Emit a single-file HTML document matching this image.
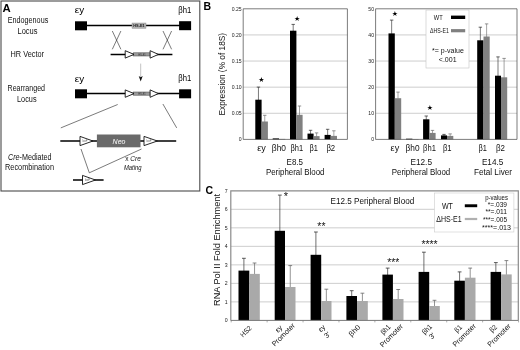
<!DOCTYPE html>
<html><head><meta charset="utf-8"><title>Figure</title>
<style>
html,body{margin:0;padding:0;background:#fff;}
svg{display:block;font-family:"Liberation Sans", sans-serif;}
</style></head>
<body>
<svg width="520" height="350" viewBox="0 0 520 350">
<defs><filter id="soft" x="0" y="0" width="520" height="350" filterUnits="userSpaceOnUse"><feGaussianBlur stdDeviation="0.38"/></filter></defs>
<rect width="520" height="350" fill="#fff"/>
<g filter="url(#soft)">
<rect width="520" height="350" fill="#fff"/>
<g id="panelA">
<rect x="1.00" y="1.00" width="198.80" height="190.00" fill="#fff" stroke="#4a4a4a" stroke-width="1.1" />
<text x="2.4" y="11.6" font-size="10.6" text-anchor="start" font-weight="bold" textLength="8.2" lengthAdjust="spacingAndGlyphs" fill="#000" >A</text>
<text x="28" y="23.1" font-size="8.3" text-anchor="middle" textLength="40.5" lengthAdjust="spacingAndGlyphs" fill="#111" >Endogenous</text>
<text x="27.5" y="33.9" font-size="8.3" text-anchor="middle" textLength="20" lengthAdjust="spacingAndGlyphs" fill="#111" >Locus</text>
<text x="27.3" y="56.6" font-size="8.3" text-anchor="middle" textLength="33.5" lengthAdjust="spacingAndGlyphs" fill="#111" >HR Vector</text>
<text x="26.3" y="90.7" font-size="8.3" text-anchor="middle" textLength="37.5" lengthAdjust="spacingAndGlyphs" fill="#111" >Rearranged</text>
<text x="26.8" y="101.5" font-size="8.3" text-anchor="middle" textLength="19.5" lengthAdjust="spacingAndGlyphs" fill="#111" >Locus</text>
<text x="29.8" y="159.6" font-size="8.3" text-anchor="middle" fill="#111" textLength="43.5" lengthAdjust="spacingAndGlyphs"><tspan font-style="italic">Cre</tspan>-Mediated</text>
<text x="29.5" y="170.3" font-size="8.3" text-anchor="middle" textLength="49" lengthAdjust="spacingAndGlyphs" fill="#111" >Recombination</text>
<text x="74.8" y="13.3" font-size="9.8" text-anchor="start" textLength="9.4" lengthAdjust="spacingAndGlyphs" fill="#000" >εy</text>
<text x="178.3" y="13.1" font-size="9.5" text-anchor="start" textLength="13" lengthAdjust="spacingAndGlyphs" fill="#000" >βh1</text>
<text x="74.8" y="81.5" font-size="9.8" text-anchor="start" textLength="9.4" lengthAdjust="spacingAndGlyphs" fill="#000" >εy</text>
<text x="178.3" y="81.4" font-size="9.5" text-anchor="start" textLength="13" lengthAdjust="spacingAndGlyphs" fill="#000" >βh1</text>
<line x1="86" y1="25.4" x2="180" y2="25.4" stroke="#000" stroke-width="1.5" />
<rect x="75.00" y="21.30" width="12.00" height="9.00" fill="#000" />
<rect x="179.10" y="21.20" width="12.00" height="9.00" fill="#000" />
<rect x="132.00" y="23.00" width="14.00" height="5.40" fill="#b0b0b0" stroke="#8a8a8a" stroke-width="0.4" />
<text x="139" y="27.1" font-size="3.9" text-anchor="middle" font-weight="bold" fill="#1a1a1a" >HS-E1</text>
<line x1="112.3" y1="31" x2="120.89999999999999" y2="49.3" stroke="#222" stroke-width="0.6" />
<line x1="120.89999999999999" y1="31" x2="112.3" y2="49.3" stroke="#222" stroke-width="0.6" />
<line x1="163" y1="31" x2="171.6" y2="49.3" stroke="#222" stroke-width="0.6" />
<line x1="171.6" y1="31" x2="163" y2="49.3" stroke="#222" stroke-width="0.6" />
<line x1="110.6" y1="54.4" x2="172.4" y2="54.4" stroke="#000" stroke-width="1.5" />
<rect x="133.40" y="52.80" width="17.00" height="3.20" fill="#9a9a9a" stroke="#444" stroke-width="0.5" />
<text x="142" y="55.5" font-size="2.6" text-anchor="middle" fill="#333" >HS-E1</text>
<polygon points="125.2,50.699999999999996 134,54.4 125.2,58.1" fill="#fff" stroke="#111" stroke-width="0.9" stroke-linejoin="miter"/>
<polygon points="150.1,50.699999999999996 158.4,54.4 150.1,58.1" fill="#fff" stroke="#111" stroke-width="0.9" stroke-linejoin="miter"/>
<line x1="140.7" y1="63.6" x2="140.7" y2="78" stroke="#777" stroke-width="0.45" />
<polygon points="138.7,76 140.7,77.2 142.7,76 140.7,81.6" fill="#111"/>
<line x1="86" y1="93.6" x2="180" y2="93.6" stroke="#000" stroke-width="1.5" />
<rect x="75.00" y="89.30" width="12.00" height="9.00" fill="#000" />
<rect x="179.10" y="89.30" width="12.00" height="9.00" fill="#000" />
<rect x="133.40" y="92.00" width="17.00" height="3.20" fill="#9a9a9a" stroke="#444" stroke-width="0.5" />
<text x="142" y="94.7" font-size="2.6" text-anchor="middle" fill="#333" >HS-E1</text>
<polygon points="125.2,89.89999999999999 134,93.6 125.2,97.3" fill="#fff" stroke="#111" stroke-width="0.9" stroke-linejoin="miter"/>
<polygon points="150.1,89.89999999999999 158.4,93.6 150.1,97.3" fill="#fff" stroke="#111" stroke-width="0.9" stroke-linejoin="miter"/>
<line x1="60.8" y1="127.9" x2="117.7" y2="104.5" stroke="#222" stroke-width="0.6" />
<line x1="162.9" y1="104" x2="176.7" y2="127.9" stroke="#222" stroke-width="0.6" />
<line x1="60.3" y1="141" x2="176.2" y2="141" stroke="#000" stroke-width="1.5" />
<polygon points="80,136.4 93,141 80,145.6" fill="#fff" stroke="#111" stroke-width="0.9" stroke-linejoin="miter"/>
<polygon points="144,136.4 157.4,141 144,145.6" fill="#fff" stroke="#111" stroke-width="0.9" stroke-linejoin="miter"/>
<text x="85" y="142.4" font-size="2.6" text-anchor="middle" fill="#555" >loxP</text>
<text x="149" y="142.4" font-size="2.6" text-anchor="middle" fill="#555" >loxP</text>
<rect x="96.90" y="134.50" width="43.60" height="12.80" fill="#6a6a6a" />
<text x="119" y="143.8" font-size="7" text-anchor="middle" font-style="italic" fill="#fff" >Neo</text>
<polyline points="81,149 89.3,172.8 141.5,149" fill="none" stroke="#222" stroke-width="0.6"/>
<text x="133" y="160.7" font-size="6.5" text-anchor="middle" fill="#111">x <tspan font-style="italic">Cre</tspan></text>
<text x="132.7" y="170.2" font-size="6.6" text-anchor="middle" font-style="italic" textLength="17.6" lengthAdjust="spacingAndGlyphs" fill="#111" >Mating</text>
<line x1="73" y1="180" x2="103.6" y2="180" stroke="#000" stroke-width="1.5" />
<polygon points="82.5,175.4 95.5,180 82.5,184.6" fill="#fff" stroke="#111" stroke-width="0.9" stroke-linejoin="miter"/>
<text x="87.5" y="181.4" font-size="2.6" text-anchor="middle" fill="#555" >loxP</text>
</g>
<g id="panelB">
<text x="203.4" y="10.4" font-size="10.5" text-anchor="start" font-weight="bold" fill="#000" >B</text>
<text x="241.6" y="141.20" font-size="5.1" text-anchor="end" fill="#222" >0</text>
<line x1="243.2" y1="113.28" x2="347.4" y2="113.28" stroke="#b8b8b8" stroke-width="0.7" />
<text x="241.6" y="115.08" font-size="5.1" text-anchor="end" fill="#222" >0.05</text>
<line x1="243.2" y1="87.16" x2="347.4" y2="87.16" stroke="#b8b8b8" stroke-width="0.7" />
<text x="241.6" y="88.96" font-size="5.1" text-anchor="end" fill="#222" >0.10</text>
<line x1="243.2" y1="61.04" x2="347.4" y2="61.04" stroke="#b8b8b8" stroke-width="0.7" />
<text x="241.6" y="62.84" font-size="5.1" text-anchor="end" fill="#222" >0.15</text>
<line x1="243.2" y1="34.92" x2="347.4" y2="34.92" stroke="#b8b8b8" stroke-width="0.7" />
<text x="241.6" y="36.72" font-size="5.1" text-anchor="end" fill="#222" >0.20</text>
<text x="241.6" y="10.60" font-size="5.1" text-anchor="end" fill="#222" >0.25</text>
<line x1="258.45" y1="87.10" x2="258.45" y2="100.20" stroke="#222" stroke-width="0.6" />
<line x1="256.75" y1="87.10" x2="260.15" y2="87.10" stroke="#222" stroke-width="0.7" />
<rect x="255.30" y="99.70" width="6.30" height="39.70" fill="#000" />
<line x1="264.75" y1="115.30" x2="264.75" y2="122.00" stroke="#666" stroke-width="0.6" />
<line x1="263.05" y1="115.30" x2="266.45" y2="115.30" stroke="#666" stroke-width="0.7" />
<rect x="261.60" y="121.50" width="6.30" height="17.90" fill="#808080" />
<rect x="272.70" y="138.40" width="6.30" height="1.00" fill="#000" />
<rect x="279.00" y="138.90" width="6.30" height="0.50" fill="#808080" />
<line x1="293.20" y1="24.40" x2="293.20" y2="31.20" stroke="#222" stroke-width="0.6" />
<line x1="291.50" y1="24.40" x2="294.90" y2="24.40" stroke="#222" stroke-width="0.7" />
<rect x="290.00" y="30.70" width="6.40" height="108.70" fill="#000" />
<line x1="299.50" y1="106.00" x2="299.50" y2="115.30" stroke="#666" stroke-width="0.6" />
<line x1="297.80" y1="106.00" x2="301.20" y2="106.00" stroke="#666" stroke-width="0.7" />
<rect x="296.40" y="114.80" width="6.20" height="24.60" fill="#808080" />
<line x1="310.55" y1="130.30" x2="310.55" y2="134.10" stroke="#222" stroke-width="0.6" />
<line x1="308.85" y1="130.30" x2="312.25" y2="130.30" stroke="#222" stroke-width="0.7" />
<rect x="307.50" y="133.60" width="6.10" height="5.80" fill="#000" />
<line x1="316.60" y1="132.90" x2="316.60" y2="136.60" stroke="#666" stroke-width="0.6" />
<line x1="314.90" y1="132.90" x2="318.30" y2="132.90" stroke="#666" stroke-width="0.7" />
<rect x="313.60" y="136.10" width="6.00" height="3.30" fill="#808080" />
<line x1="327.65" y1="129.30" x2="327.65" y2="135.40" stroke="#222" stroke-width="0.6" />
<line x1="325.95" y1="129.30" x2="329.35" y2="129.30" stroke="#222" stroke-width="0.7" />
<rect x="324.60" y="134.90" width="6.10" height="4.50" fill="#000" />
<line x1="333.85" y1="130.80" x2="333.85" y2="136.40" stroke="#666" stroke-width="0.6" />
<line x1="332.15" y1="130.80" x2="335.55" y2="130.80" stroke="#666" stroke-width="0.7" />
<rect x="330.70" y="135.90" width="6.30" height="3.50" fill="#808080" />
<path d="M243.2,139.4 V8.8 H347.4 V139.4" fill="none" stroke="#444" stroke-width="0.7"/>
<line x1="243.2" y1="139.4" x2="347.4" y2="139.4" stroke="#444" stroke-width="0.7" />
<text x="261.6" y="150.5" font-size="8.6" text-anchor="middle" textLength="8.6" lengthAdjust="spacingAndGlyphs" fill="#111" >εy</text>
<text x="278.9" y="150.5" font-size="8.6" text-anchor="middle" textLength="14.2" lengthAdjust="spacingAndGlyphs" fill="#111" >βh0</text>
<text x="296.8" y="150.5" font-size="8.6" text-anchor="middle" textLength="12.6" lengthAdjust="spacingAndGlyphs" fill="#111" >βh1</text>
<text x="313.6" y="150.5" font-size="8.6" text-anchor="middle" textLength="8.4" lengthAdjust="spacingAndGlyphs" fill="#111" >β1</text>
<text x="330.8" y="150.5" font-size="8.6" text-anchor="middle" textLength="8.8" lengthAdjust="spacingAndGlyphs" fill="#111" >β2</text>
<text x="374.0" y="141.20" font-size="5.1" text-anchor="end" fill="#222" >0</text>
<line x1="375.6" y1="113.28" x2="517" y2="113.28" stroke="#b8b8b8" stroke-width="0.7" />
<text x="374.0" y="115.08" font-size="5.1" text-anchor="end" fill="#222" >10</text>
<line x1="375.6" y1="87.16" x2="517" y2="87.16" stroke="#b8b8b8" stroke-width="0.7" />
<text x="374.0" y="88.96" font-size="5.1" text-anchor="end" fill="#222" >20</text>
<line x1="375.6" y1="61.04" x2="517" y2="61.04" stroke="#b8b8b8" stroke-width="0.7" />
<text x="374.0" y="62.84" font-size="5.1" text-anchor="end" fill="#222" >30</text>
<line x1="375.6" y1="34.92" x2="517" y2="34.92" stroke="#b8b8b8" stroke-width="0.7" />
<text x="374.0" y="36.72" font-size="5.1" text-anchor="end" fill="#222" >40</text>
<text x="374.0" y="10.60" font-size="5.1" text-anchor="end" fill="#222" >50</text>
<line x1="391.65" y1="20.10" x2="391.65" y2="33.90" stroke="#222" stroke-width="0.6" />
<line x1="389.95" y1="20.10" x2="393.35" y2="20.10" stroke="#222" stroke-width="0.7" />
<rect x="388.50" y="33.40" width="6.30" height="106.00" fill="#000" />
<line x1="398.00" y1="92.10" x2="398.00" y2="98.70" stroke="#666" stroke-width="0.6" />
<line x1="396.30" y1="92.10" x2="399.70" y2="92.10" stroke="#666" stroke-width="0.7" />
<rect x="394.80" y="98.20" width="6.40" height="41.20" fill="#808080" />
<rect x="406.00" y="138.70" width="6.40" height="0.70" fill="#000" />
<rect x="412.40" y="139.00" width="6.20" height="0.40" fill="#808080" />
<line x1="426.25" y1="116.00" x2="426.25" y2="119.80" stroke="#222" stroke-width="0.6" />
<line x1="424.55" y1="116.00" x2="427.95" y2="116.00" stroke="#222" stroke-width="0.7" />
<rect x="423.10" y="119.30" width="6.30" height="20.10" fill="#000" />
<line x1="432.50" y1="130.40" x2="432.50" y2="133.40" stroke="#666" stroke-width="0.6" />
<line x1="430.80" y1="130.40" x2="434.20" y2="130.40" stroke="#666" stroke-width="0.7" />
<rect x="429.40" y="132.90" width="6.20" height="6.50" fill="#808080" />
<line x1="444.00" y1="134.40" x2="444.00" y2="135.90" stroke="#222" stroke-width="0.6" />
<line x1="442.30" y1="134.40" x2="445.70" y2="134.40" stroke="#222" stroke-width="0.7" />
<rect x="441.00" y="135.40" width="6.00" height="4.00" fill="#000" />
<line x1="450.15" y1="133.90" x2="450.15" y2="136.40" stroke="#666" stroke-width="0.6" />
<line x1="448.45" y1="133.90" x2="451.85" y2="133.90" stroke="#666" stroke-width="0.7" />
<rect x="447.00" y="135.90" width="6.30" height="3.50" fill="#808080" />
<line x1="480.35" y1="27.20" x2="480.35" y2="40.80" stroke="#222" stroke-width="0.6" />
<line x1="478.65" y1="27.20" x2="482.05" y2="27.20" stroke="#222" stroke-width="0.7" />
<rect x="477.20" y="40.30" width="6.30" height="99.10" fill="#000" />
<line x1="486.60" y1="23.90" x2="486.60" y2="37.00" stroke="#666" stroke-width="0.6" />
<line x1="484.90" y1="23.90" x2="488.30" y2="23.90" stroke="#666" stroke-width="0.7" />
<rect x="483.50" y="36.50" width="6.20" height="102.90" fill="#808080" />
<line x1="498.00" y1="56.90" x2="498.00" y2="76.20" stroke="#222" stroke-width="0.6" />
<line x1="496.30" y1="56.90" x2="499.70" y2="56.90" stroke="#222" stroke-width="0.7" />
<rect x="495.00" y="75.70" width="6.00" height="63.70" fill="#000" />
<line x1="504.10" y1="58.40" x2="504.10" y2="77.80" stroke="#666" stroke-width="0.6" />
<line x1="502.40" y1="58.40" x2="505.80" y2="58.40" stroke="#666" stroke-width="0.7" />
<rect x="501.00" y="77.30" width="6.20" height="62.10" fill="#808080" />
<path d="M375.6,139.4 V8.8 H517 V139.4" fill="none" stroke="#444" stroke-width="0.7"/>
<line x1="375.6" y1="139.4" x2="517" y2="139.4" stroke="#444" stroke-width="0.7" />
<text x="394.9" y="150.5" font-size="8.6" text-anchor="middle" textLength="8.6" lengthAdjust="spacingAndGlyphs" fill="#111" >εy</text>
<text x="412.5" y="150.5" font-size="8.6" text-anchor="middle" textLength="14" lengthAdjust="spacingAndGlyphs" fill="#111" >βh0</text>
<text x="429.5" y="150.5" font-size="8.6" text-anchor="middle" textLength="12.8" lengthAdjust="spacingAndGlyphs" fill="#111" >βh1</text>
<text x="447.2" y="150.5" font-size="8.6" text-anchor="middle" textLength="8.6" lengthAdjust="spacingAndGlyphs" fill="#111" >β1</text>
<text x="482.7" y="150.5" font-size="8.6" text-anchor="middle" textLength="8.4" lengthAdjust="spacingAndGlyphs" fill="#111" >β1</text>
<text x="500.5" y="150.5" font-size="8.6" text-anchor="middle" textLength="9" lengthAdjust="spacingAndGlyphs" fill="#111" >β2</text>
<text transform="translate(224.8,74.2) rotate(-90)" font-size="8.5" text-anchor="middle" fill="#111" textLength="82.5" lengthAdjust="spacingAndGlyphs">Expression (% of 18S)</text>
<text x="261.5" y="81.6" font-size="7" text-anchor="middle" fill="#000" font-family="DejaVu Sans, sans-serif">★</text>
<text x="297.2" y="20.6" font-size="7" text-anchor="middle" fill="#000" font-family="DejaVu Sans, sans-serif">★</text>
<text x="395" y="16.2" font-size="7" text-anchor="middle" fill="#000" font-family="DejaVu Sans, sans-serif">★</text>
<text x="430" y="110" font-size="7" text-anchor="middle" fill="#000" font-family="DejaVu Sans, sans-serif">★</text>
<rect x="426.00" y="10.00" width="43.00" height="58.00" fill="#fff" stroke="#c4c4c4" stroke-width="0.6" />
<text x="433.8" y="19.5" font-size="7" text-anchor="start" textLength="8.9" lengthAdjust="spacingAndGlyphs" fill="#111" >WT</text>
<rect x="451.00" y="15.60" width="14.20" height="3.40" fill="#000" />
<text x="430" y="33" font-size="6.9" text-anchor="start" textLength="18.8" lengthAdjust="spacingAndGlyphs" fill="#111" >ΔHS-E1</text>
<rect x="451.00" y="29.10" width="14.20" height="3.20" fill="#808080" />
<text x="447.9" y="52.8" font-size="7.6" text-anchor="middle" textLength="31.8" lengthAdjust="spacingAndGlyphs" fill="#111" >*= p-value</text>
<text x="447.7" y="62.3" font-size="7.6" text-anchor="middle" textLength="17.8" lengthAdjust="spacingAndGlyphs" fill="#111" >&lt;.001</text>
<text x="294.8" y="165.2" font-size="8.4" text-anchor="middle" textLength="16.4" lengthAdjust="spacingAndGlyphs" fill="#111" >E8.5</text>
<text x="295.2" y="175.4" font-size="8.2" text-anchor="middle" textLength="58.6" lengthAdjust="spacingAndGlyphs" fill="#111" >Peripheral Blood</text>
<text x="421.2" y="165.2" font-size="8.4" text-anchor="middle" textLength="21.6" lengthAdjust="spacingAndGlyphs" fill="#111" >E12.5</text>
<text x="421" y="175.4" font-size="8.2" text-anchor="middle" textLength="58.6" lengthAdjust="spacingAndGlyphs" fill="#111" >Peripheral Blood</text>
<text x="492.6" y="165.2" font-size="8.4" text-anchor="middle" textLength="21.4" lengthAdjust="spacingAndGlyphs" fill="#111" >E14.5</text>
<text x="493" y="175.4" font-size="8.2" text-anchor="middle" textLength="38.2" lengthAdjust="spacingAndGlyphs" fill="#111" >Fetal Liver</text>
</g>
<g id="panelC">
<text x="205.4" y="194.2" font-size="10.5" text-anchor="start" font-weight="bold" fill="#000" >C</text>
<text x="227.60000000000002" y="322.20" font-size="5.2" text-anchor="end" fill="#222" >0</text>
<line x1="230.8" y1="301.89" x2="518.3" y2="301.89" stroke="#b8b8b8" stroke-width="0.7" />
<text x="227.60000000000002" y="303.69" font-size="5.2" text-anchor="end" fill="#222" >1</text>
<line x1="230.8" y1="283.37" x2="518.3" y2="283.37" stroke="#b8b8b8" stroke-width="0.7" />
<text x="227.60000000000002" y="285.17" font-size="5.2" text-anchor="end" fill="#222" >2</text>
<line x1="230.8" y1="264.86" x2="518.3" y2="264.86" stroke="#b8b8b8" stroke-width="0.7" />
<text x="227.60000000000002" y="266.66" font-size="5.2" text-anchor="end" fill="#222" >3</text>
<line x1="230.8" y1="246.34" x2="518.3" y2="246.34" stroke="#b8b8b8" stroke-width="0.7" />
<text x="227.60000000000002" y="248.14" font-size="5.2" text-anchor="end" fill="#222" >4</text>
<line x1="230.8" y1="227.83" x2="518.3" y2="227.83" stroke="#b8b8b8" stroke-width="0.7" />
<text x="227.60000000000002" y="229.63" font-size="5.2" text-anchor="end" fill="#222" >5</text>
<line x1="230.8" y1="209.31" x2="518.3" y2="209.31" stroke="#b8b8b8" stroke-width="0.7" />
<text x="227.60000000000002" y="211.11" font-size="5.2" text-anchor="end" fill="#222" >6</text>
<text x="227.60000000000002" y="192.60" font-size="5.2" text-anchor="end" fill="#222" >7</text>
<line x1="243.90" y1="258.30" x2="243.90" y2="271.10" stroke="#333" stroke-width="0.7" />
<line x1="242.00" y1="258.30" x2="245.80" y2="258.30" stroke="#333" stroke-width="0.8" />
<rect x="238.50" y="270.60" width="10.80" height="49.80" fill="#000" />
<line x1="254.55" y1="263.00" x2="254.55" y2="274.40" stroke="#666" stroke-width="0.7" />
<line x1="252.65" y1="263.00" x2="256.45" y2="263.00" stroke="#666" stroke-width="0.8" />
<rect x="249.30" y="273.90" width="10.50" height="46.50" fill="#a9a9a9" />
<line x1="279.85" y1="195.10" x2="279.85" y2="231.30" stroke="#333" stroke-width="0.7" />
<line x1="277.95" y1="195.10" x2="281.75" y2="195.10" stroke="#333" stroke-width="0.8" />
<rect x="274.70" y="230.80" width="10.30" height="89.60" fill="#000" />
<line x1="290.25" y1="265.60" x2="290.25" y2="287.50" stroke="#666" stroke-width="0.7" />
<line x1="288.35" y1="265.60" x2="292.15" y2="265.60" stroke="#666" stroke-width="0.8" />
<rect x="285.00" y="287.00" width="10.50" height="33.40" fill="#a9a9a9" />
<line x1="315.90" y1="232.00" x2="315.90" y2="255.30" stroke="#333" stroke-width="0.7" />
<line x1="314.00" y1="232.00" x2="317.80" y2="232.00" stroke="#333" stroke-width="0.8" />
<rect x="310.60" y="254.80" width="10.60" height="65.60" fill="#000" />
<line x1="326.35" y1="289.20" x2="326.35" y2="301.50" stroke="#666" stroke-width="0.7" />
<line x1="324.45" y1="289.20" x2="328.25" y2="289.20" stroke="#666" stroke-width="0.8" />
<rect x="321.20" y="301.00" width="10.30" height="19.40" fill="#a9a9a9" />
<line x1="351.70" y1="290.70" x2="351.70" y2="296.50" stroke="#333" stroke-width="0.7" />
<line x1="349.80" y1="290.70" x2="353.60" y2="290.70" stroke="#333" stroke-width="0.8" />
<rect x="346.40" y="296.00" width="10.60" height="24.40" fill="#000" />
<line x1="362.40" y1="293.20" x2="362.40" y2="301.50" stroke="#666" stroke-width="0.7" />
<line x1="360.50" y1="293.20" x2="364.30" y2="293.20" stroke="#666" stroke-width="0.8" />
<rect x="357.00" y="301.00" width="10.80" height="19.40" fill="#a9a9a9" />
<line x1="387.65" y1="268.10" x2="387.65" y2="275.10" stroke="#333" stroke-width="0.7" />
<line x1="385.75" y1="268.10" x2="389.55" y2="268.10" stroke="#333" stroke-width="0.8" />
<rect x="382.40" y="274.60" width="10.50" height="45.80" fill="#000" />
<line x1="398.20" y1="289.50" x2="398.20" y2="299.50" stroke="#666" stroke-width="0.7" />
<line x1="396.30" y1="289.50" x2="400.10" y2="289.50" stroke="#666" stroke-width="0.8" />
<rect x="392.90" y="299.00" width="10.60" height="21.40" fill="#a9a9a9" />
<line x1="423.90" y1="252.20" x2="423.90" y2="272.40" stroke="#333" stroke-width="0.7" />
<line x1="422.00" y1="252.20" x2="425.80" y2="252.20" stroke="#333" stroke-width="0.8" />
<rect x="418.60" y="271.90" width="10.60" height="48.50" fill="#000" />
<line x1="434.50" y1="300.30" x2="434.50" y2="306.50" stroke="#666" stroke-width="0.7" />
<line x1="432.60" y1="300.30" x2="436.40" y2="300.30" stroke="#666" stroke-width="0.8" />
<rect x="429.20" y="306.00" width="10.60" height="14.40" fill="#a9a9a9" />
<line x1="459.60" y1="271.90" x2="459.60" y2="281.20" stroke="#333" stroke-width="0.7" />
<line x1="457.70" y1="271.90" x2="461.50" y2="271.90" stroke="#333" stroke-width="0.8" />
<rect x="454.30" y="280.70" width="10.60" height="39.70" fill="#000" />
<line x1="470.20" y1="268.10" x2="470.20" y2="278.20" stroke="#666" stroke-width="0.7" />
<line x1="468.30" y1="268.10" x2="472.10" y2="268.10" stroke="#666" stroke-width="0.8" />
<rect x="464.90" y="277.70" width="10.60" height="42.70" fill="#a9a9a9" />
<line x1="495.85" y1="262.60" x2="495.85" y2="272.40" stroke="#333" stroke-width="0.7" />
<line x1="493.95" y1="262.60" x2="497.75" y2="262.60" stroke="#333" stroke-width="0.8" />
<rect x="490.60" y="271.90" width="10.50" height="48.50" fill="#000" />
<line x1="506.40" y1="260.60" x2="506.40" y2="274.90" stroke="#666" stroke-width="0.7" />
<line x1="504.50" y1="260.60" x2="508.30" y2="260.60" stroke="#666" stroke-width="0.8" />
<rect x="501.10" y="274.40" width="10.60" height="46.00" fill="#a9a9a9" />
<path d="M230.8,320.4 V190.8 H518.3 V320.4" fill="none" stroke="#8a8a8a" stroke-width="1.2"/>
<line x1="230.8" y1="320.4" x2="518.3" y2="320.4" stroke="#777" stroke-width="1.0" />
<line x1="231.20" y1="320.4" x2="231.20" y2="322.4" stroke="#777" stroke-width="0.6" />
<line x1="267.12" y1="320.4" x2="267.12" y2="322.4" stroke="#777" stroke-width="0.6" />
<line x1="303.04" y1="320.4" x2="303.04" y2="322.4" stroke="#777" stroke-width="0.6" />
<line x1="338.96" y1="320.4" x2="338.96" y2="322.4" stroke="#777" stroke-width="0.6" />
<line x1="374.88" y1="320.4" x2="374.88" y2="322.4" stroke="#777" stroke-width="0.6" />
<line x1="410.80" y1="320.4" x2="410.80" y2="322.4" stroke="#777" stroke-width="0.6" />
<line x1="446.72" y1="320.4" x2="446.72" y2="322.4" stroke="#777" stroke-width="0.6" />
<line x1="482.64" y1="320.4" x2="482.64" y2="322.4" stroke="#777" stroke-width="0.6" />
<line x1="518.56" y1="320.4" x2="518.56" y2="322.4" stroke="#777" stroke-width="0.6" />
<text transform="translate(219.8,250) rotate(-90)" font-size="8.4" text-anchor="middle" fill="#111" textLength="112" lengthAdjust="spacingAndGlyphs">RNA Pol II Fold Enrichment</text>
<text x="372.4" y="203.6" font-size="8.6" text-anchor="middle" textLength="83.6" lengthAdjust="spacingAndGlyphs" fill="#111" >E12.5 Peripheral Blood</text>
<rect x="434.40" y="193.00" width="79.50" height="39.00" fill="#fff" stroke="#ccc" stroke-width="0.6" />
<text x="441.9" y="208.9" font-size="8.3" text-anchor="start" textLength="11" lengthAdjust="spacingAndGlyphs" fill="#111" >WT</text>
<rect x="464.80" y="204.30" width="12.40" height="2.90" fill="#000" />
<text x="436.2" y="221.7" font-size="8.2" text-anchor="start" textLength="25.4" lengthAdjust="spacingAndGlyphs" fill="#111" >ΔHS-E1</text>
<rect x="464.80" y="217.90" width="12.40" height="2.20" fill="#b0b0b0" />
<text x="496.6" y="199.8" font-size="6.3" text-anchor="middle" textLength="22.8" lengthAdjust="spacingAndGlyphs" fill="#111" >p-values</text>
<text x="507" y="206.8" font-size="6.3" text-anchor="end" textLength="19.2" lengthAdjust="spacingAndGlyphs" fill="#111" >*=.039</text>
<text x="507" y="214.2" font-size="6.3" text-anchor="end" textLength="21.6" lengthAdjust="spacingAndGlyphs" fill="#111" >**=.011</text>
<text x="507" y="222" font-size="6.3" text-anchor="end" textLength="24" lengthAdjust="spacingAndGlyphs" fill="#111" >***=.005</text>
<text x="511" y="229.8" font-size="6.3" text-anchor="end" textLength="29" lengthAdjust="spacingAndGlyphs" fill="#111" >****=.013</text>
<text x="285.9" y="200.2" font-size="11" text-anchor="middle" fill="#111" >*</text>
<text x="321.4" y="230.2" font-size="10.4" text-anchor="middle" fill="#111" >**</text>
<text x="393.3" y="266.2" font-size="10.4" text-anchor="middle" fill="#111" >***</text>
<text x="429.5" y="248.4" font-size="10.4" text-anchor="middle" fill="#111" >****</text>
<text transform="translate(247.6,333.1) rotate(-45)" font-size="7.2" text-anchor="middle" fill="#111" textLength="13" lengthAdjust="spacingAndGlyphs">HS2</text>
<text transform="translate(280.3,330.6) rotate(-45)" font-size="7.2" text-anchor="middle" fill="#111">εy</text>
<text transform="translate(285.1,336.4) rotate(-45)" font-size="7.2" text-anchor="middle" fill="#111">Promoter</text>
<text transform="translate(323.4,330.1) rotate(-45)" font-size="7.2" text-anchor="middle" fill="#111">εy</text>
<text transform="translate(329.0,336.7) rotate(-45)" font-size="7.2" text-anchor="middle" fill="#111">3'</text>
<text transform="translate(356.2,332.3) rotate(-45)" font-size="7.2" text-anchor="middle" fill="#111" textLength="13" lengthAdjust="spacingAndGlyphs">βh0</text>
<text transform="translate(387.3,331.2) rotate(-45)" font-size="7.2" text-anchor="middle" fill="#111" textLength="10.8" lengthAdjust="spacingAndGlyphs">βh1</text>
<text transform="translate(393.1,337.2) rotate(-45)" font-size="7.2" text-anchor="middle" fill="#111">Promoter</text>
<text transform="translate(428.6,331.0) rotate(-45)" font-size="7.2" text-anchor="middle" fill="#111" textLength="10.8" lengthAdjust="spacingAndGlyphs">βh1</text>
<text transform="translate(433.9,337.7) rotate(-45)" font-size="7.2" text-anchor="middle" fill="#111">3'</text>
<text transform="translate(459.9,330.3) rotate(-45)" font-size="7.2" text-anchor="middle" fill="#111" textLength="7.4" lengthAdjust="spacingAndGlyphs">β1</text>
<text transform="translate(465.9,336.9) rotate(-45)" font-size="7.2" text-anchor="middle" fill="#111">Promoter</text>
<text transform="translate(494.9,330.2) rotate(-45)" font-size="7.2" text-anchor="middle" fill="#111" textLength="7.4" lengthAdjust="spacingAndGlyphs">β2</text>
<text transform="translate(500.8,336.9) rotate(-45)" font-size="7.2" text-anchor="middle" fill="#111">Promoter</text>
</g>
</g>
</svg>
</body></html>
